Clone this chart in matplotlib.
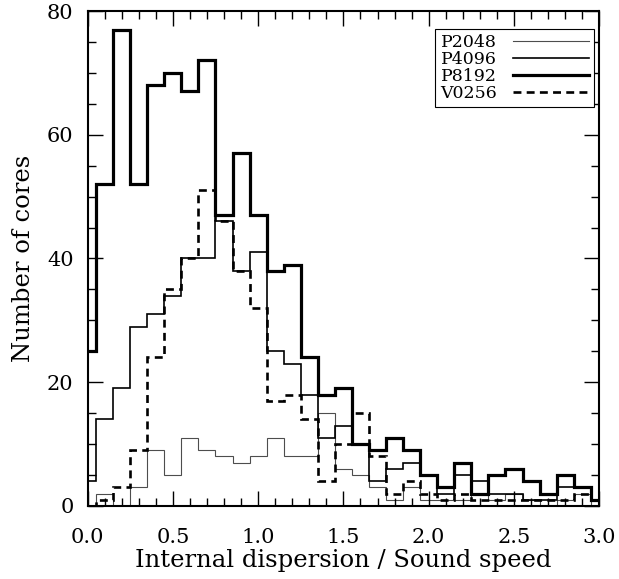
import numpy as np
import matplotlib
matplotlib.use("Agg")
from matplotlib import pyplot as plt

#bins are 0.1 wide, centred on 0.0, 0.1, ... 3.0
bin_centres = [0.0, 0.1, 0.2, 0.3, 0.4, 0.5, 0.6, 0.7, 0.8, 0.9,
               1.0, 1.1, 1.2, 1.3, 1.4, 1.5, 1.6, 1.7, 1.8, 1.9,
               2.0, 2.1, 2.2, 2.3, 2.4, 2.5, 2.6, 2.7, 2.8, 2.9, 3.0]
bin_width = 0.1

#number of cores in each bin
p2048 = [0, 2, 0, 3, 9, 5, 11, 9, 8, 7, 8, 11, 8, 8, 15, 6, 5, 3, 1, 3,
         1, 1, 1, 2, 1, 2, 1, 0, 1, 2, 0]
p4096 = [4, 14, 19, 29, 31, 34, 40, 40, 46, 38, 41, 25, 23, 18, 11, 13, 10, 4, 6, 7,
         5, 2, 5, 4, 2, 2, 1, 1, 3, 3, 1]
p8192 = [25, 52, 77, 52, 68, 70, 67, 72, 47, 57, 47, 38, 39, 24, 18, 19, 10, 9, 11, 9,
         5, 3, 7, 2, 5, 6, 4, 2, 5, 3, 1]
v0256 = [0, 1, 3, 9, 24, 35, 40, 51, 46, 38, 32, 17, 18, 14, 4, 10, 15, 8, 2, 4,
         2, 1, 2, 1, 1, 1, 1, 1, 1, 2, 1]

series_names = ['P2048', 'P4096', 'P8192', 'V0256']

plt.rcParams['font.family'] = 'DejaVu Serif'

fig = plt.figure(figsize=(6.19, 5.79), dpi=100)
ax = fig.add_axes([0.1414, 0.1261, 0.8268, 0.8549])

#bin edges from the centres
edges = np.append(np.array(bin_centres) - bin_width / 2, bin_centres[-1] + bin_width / 2)

ax.stairs(p2048, edges, baseline=None, color='0.3', linewidth=0.8, label=series_names[0])
ax.stairs(p4096, edges, baseline=None, color='black', linewidth=1.2, label=series_names[1])
ax.stairs(p8192, edges, baseline=None, color='black', linewidth=2.3, label=series_names[2])
ax.stairs(v0256, edges, baseline=None, color='black', linewidth=1.9,
          linestyle=(0, (3, 2)), label=series_names[3])

ax.set_xlim(0, 3.0)
ax.set_ylim(0, 80)
ax.set_xticks([0.0, 0.5, 1.0, 1.5, 2.0, 2.5, 3.0])
ax.set_xticks(np.arange(0, 3.01, 0.1), minor=True)
ax.set_yticks([0, 20, 40, 60, 80])
ax.set_yticks(np.arange(0, 81, 5), minor=True)
ax.xaxis.set_major_formatter(matplotlib.ticker.FormatStrFormatter('%.1f'))

#IDL style ticks: inward on all four sides
ax.tick_params(which='both', direction='in', top=True, right=True, width=1.0,
               labelsize=15)
ax.tick_params(which='major', length=11)
ax.tick_params(which='minor', length=5.5)
ax.tick_params(axis='x', which='major', pad=16)
ax.tick_params(axis='y', which='major', pad=10)
for sp in ax.spines.values():
    sp.set_linewidth(1.5)

ax.set_xlabel('Internal dispersion / Sound speed', fontsize=17.5, labelpad=1)
ax.set_ylabel('Number of cores', fontsize=17.5, labelpad=9)

leg = ax.legend(loc='upper right', bbox_to_anchor=(0.99, 0.964), fontsize=12.5,
                markerfirst=False, handlelength=4.4, handletextpad=0.9,
                labelspacing=0, borderpad=0.3, borderaxespad=0,
                fancybox=False, framealpha=1, edgecolor='black')
leg.get_frame().set_linewidth(0.8)

plt.savefig('out.png', dpi=100)
